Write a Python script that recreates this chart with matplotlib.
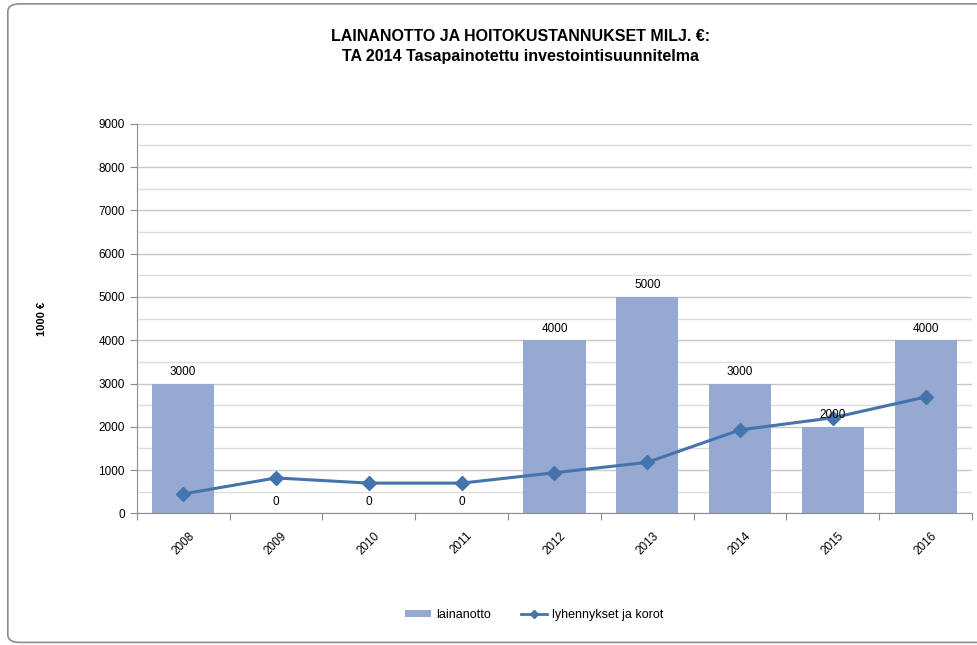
import numpy as np
import matplotlib.pyplot as plt
from matplotlib.patches import FancyBboxPatch, Patch
from matplotlib.lines import Line2D

plt.rcParams['font.family'] = ['Liberation Sans', 'DejaVu Sans']

# Data
years = ['2008', '2009', '2010', '2011', '2012', '2013', '2014', '2015', '2016']
lainanotto = [3000, 0, 0, 0, 4000, 5000, 3000, 2000, 4000]
lyhennykset = [450, 820, 700, 700, 940, 1180, 1930, 2210, 2690]

bar_color = '#95a9d1'
line_color = '#4573ae'

fig = plt.figure(figsize=(9.77, 6.45), dpi=100)

# rounded chart frame
frame = FancyBboxPatch((0.008, 0.004), 1.2, 0.99, boxstyle='round,pad=0,rounding_size=0.012',
                       transform=fig.transFigure, fill=False, edgecolor='#8c8c8c', linewidth=1.2)
fig.patches.append(frame)

ax = fig.add_axes([0.140, 0.204, 0.855, 0.604])
x = np.arange(len(years))

ax.bar(x, lainanotto, width=0.67, color=bar_color, zorder=2)
ax.plot(x, lyhennykset, color=line_color, linewidth=2.2, marker='D', markersize=7, zorder=3)

for xi, v in zip(x, lainanotto):
    ax.annotate(str(v), (xi, v), xytext=(0, 4), textcoords='offset points',
                ha='center', va='bottom', fontsize=8.5, zorder=4)

ax.set_xlim(-0.5, len(years) - 0.5)
ax.set_ylim(0, 9000)
ax.set_yticks(np.arange(0, 9001, 1000))
ax.set_yticks(np.arange(500, 9000, 1000), minor=True)
ax.grid(axis='y', which='major', color='#c8c8c8', linewidth=1, zorder=0)
ax.grid(axis='y', which='minor', color='#dedede', linewidth=1, zorder=0)
ax.set_axisbelow(True)

# category ticks between bars
ax.set_xticks(np.arange(-0.5, len(years), 1.0))
ax.set_xticklabels([])
ax.set_xticks(x, minor=True)
ax.set_xticklabels(years, minor=True, rotation=45, ha='center', fontsize=8.5)
ax.tick_params(axis='x', which='minor', length=0, pad=12)
ax.tick_params(axis='x', which='major', length=5, color='#8c8c8c', direction='out')
ax.tick_params(axis='y', which='major', length=5, color='#8c8c8c', labelsize=8.5)
ax.tick_params(axis='y', which='minor', length=0)

for s in ['top', 'right']:
    ax.spines[s].set_visible(False)
ax.spines['left'].set_color('#8c8c8c')
ax.spines['bottom'].set_color('#8c8c8c')

ax.set_ylabel('1000 €', fontsize=8, fontweight='bold')
ax.yaxis.set_label_coords(-0.108, 0.5)

fig.text(0.533, 0.928, 'LAINANOTTO JA HOITOKUSTANNUKSET MILJ. €:\nTA 2014 Tasapainotettu investointisuunnitelma',
         ha='center', va='center', fontsize=11.5, fontweight='bold', linespacing=1.35)

handles = [Patch(facecolor=bar_color, label='lainanotto'),
           Line2D([], [], color=line_color, linewidth=2, marker='D', markersize=4,
                  label='lyhennykset ja korot')]
fig.legend(handles=handles, loc='center', bbox_to_anchor=(0.547, 0.047), ncol=2, frameon=False,
           fontsize=9, handlelength=2.1, handleheight=0.45, handletextpad=0.4, columnspacing=2.4)

fig.savefig('out.png', dpi=100)
